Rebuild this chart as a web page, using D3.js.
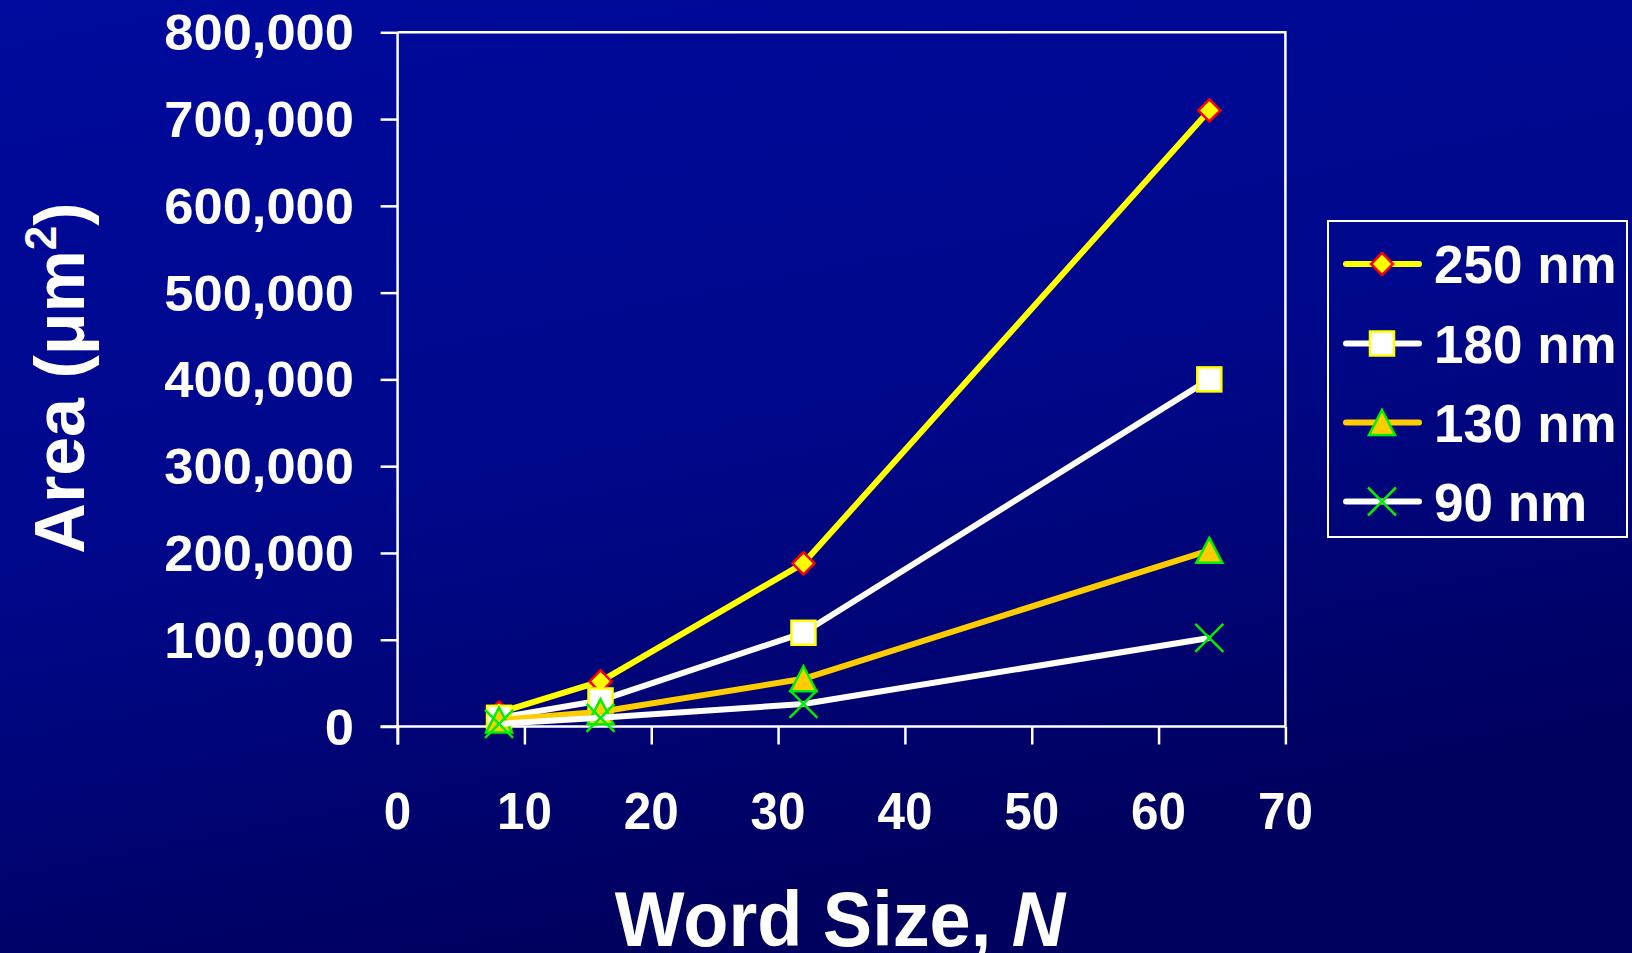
<!DOCTYPE html>
<html>
<head>
<meta charset="utf-8">
<script src="https://cdn.jsdelivr.net/npm/d3@7"></script>
<style>
  html, body { margin: 0; padding: 0; background: #000070; }
  svg { display: block; }
  text { font-family: "Liberation Sans", Arial, sans-serif; font-weight: bold; fill: #ffffff; }
</style>
</head>
<body>
<svg id="chart" width="1632" height="953"></svg>
<script>
// Word sizes (bits) and SRAM area per technology node, in square microns
const wordSizes = [8, 16, 32, 64];
const area250 = [16000, 52000, 188000, 710000];
const area180 = [10000, 30000, 108000, 400000];
const area130 = [7500, 17000, 55000, 203000];
const area90  = [3000, 10000, 26000, 102000];
const seriesNames = ["250 nm", "180 nm", "130 nm", "90 nm"];
const xTicks = [0, 10, 20, 30, 40, 50, 60, 70];
const yTicks = [0, 100000, 200000, 300000, 400000, 500000, 600000, 700000, 800000];

const series = [
  { name: seriesNames[0], values: area250, line: "#ffff00", marker: "diamond",  fill: "#ffff00", stroke: "#ff0000" },
  { name: seriesNames[1], values: area180, line: "#ffffff", marker: "square",   fill: "#ffffff", stroke: "#ffff00" },
  { name: seriesNames[2], values: area130, line: "#ffcc00", marker: "triangle", fill: "#ffcc00", stroke: "#00ee00" },
  { name: seriesNames[3], values: area90,  line: "#ffffff", marker: "cross",    fill: "none",    stroke: "#00ee00" }
];

const svg = d3.select("#chart");

// Slide background
const defs = svg.append("defs");
const bg = defs.append("linearGradient").attr("id", "bg")
  .attr("x1", "0").attr("y1", "0").attr("x2", "0.35").attr("y2", "1");
bg.append("stop").attr("offset", "0").attr("stop-color", "#000a9c");
bg.append("stop").attr("offset", "0.55").attr("stop-color", "#00088a");
bg.append("stop").attr("offset", "1").attr("stop-color", "#00005e");
svg.append("rect").attr("width", 1632).attr("height", 953).attr("fill", "url(#bg)");

// Plot geometry
const plotLeft = 397.6, plotRight = 1285.4, plotTop = 32.3, plotBottom = 726.5;
const x = d3.scaleLinear().domain([0, 70]).range([plotLeft, plotRight]);
const y = d3.scaleLinear().domain([0, 800000]).range([plotBottom, plotTop]);

// Plot frame (top and right edges)
svg.append("path")
  .attr("d", `M${plotLeft},${plotTop}H${plotRight}V${plotBottom}`)
  .attr("fill", "none").attr("stroke", "#ffffff").attr("stroke-width", 2.5);

// Y axis
const yAxis = svg.append("g").attr("transform", `translate(${plotLeft},0)`)
  .call(d3.axisLeft(y).tickValues(yTicks).tickSize(17).tickSizeOuter(0).tickFormat(d => ""));
// X axis
const xAxis = svg.append("g").attr("transform", `translate(0,${plotBottom})`)
  .call(d3.axisBottom(x).tickValues(xTicks).tickSize(18).tickSizeOuter(0).tickFormat(d => ""));
[yAxis, xAxis].forEach(g => {
  g.select(".domain").remove();
  g.selectAll(".tick line").attr("stroke", "#ffffff").attr("stroke-width", 2.5);
});
svg.append("line").attr("x1", plotLeft).attr("x2", plotLeft).attr("y1", plotTop).attr("y2", plotBottom + 18)
  .attr("stroke", "#ffffff").attr("stroke-width", 2.5);
svg.append("line").attr("x1", plotLeft - 17).attr("x2", plotRight).attr("y1", plotBottom).attr("y2", plotBottom)
  .attr("stroke", "#ffffff").attr("stroke-width", 2.5);

// Y tick labels (wide bold numerals)
const fmt = d3.format(",");
svg.append("g").selectAll("text").data(yTicks).join("text")
  .attr("transform", d => `translate(354,${y(d) + 18}) scale(1.05,1)`)
  .attr("text-anchor", "end")
  .style("font-size", "50px")
  .text(d => fmt(d));

// X tick labels
svg.append("g").selectAll("text").data(xTicks).join("text")
  .attr("transform", d => `translate(${x(d)},829) scale(0.95,1)`)
  .attr("text-anchor", "middle")
  .style("font-size", "52px")
  .text(d => d);

// Axis titles
svg.append("text")
  .attr("transform", "translate(840,946) scale(0.96,1)")
  .attr("text-anchor", "middle")
  .style("font-size", "77px")
  .call(t => {
    t.append("tspan").text("Word Size, ");
    t.append("tspan").style("font-style", "italic").text("N");
  });

svg.append("text")
  .attr("transform", "translate(84,378) rotate(-90)")
  .attr("text-anchor", "middle")
  .style("font-size", "70px")
  .call(t => {
    t.append("tspan").text("Area (\u03bcm");
    t.append("tspan").attr("dy", -28).style("font-size", "44px").text("2");
    t.append("tspan").attr("dy", 28).text(")");
  });

// Marker shapes
function drawMarker(g, type, cx, cy, fill, stroke) {
  if (type === "diamond") {
    const r = 11;
    g.append("path").attr("d", `M${cx},${cy - r}L${cx + r},${cy}L${cx},${cy + r}L${cx - r},${cy}Z`)
      .attr("fill", fill).attr("stroke", stroke).attr("stroke-width", 2.5);
  } else if (type === "square") {
    const s = 24;
    g.append("rect").attr("x", cx - s / 2).attr("y", cy - s / 2).attr("width", s).attr("height", s)
      .attr("fill", fill).attr("stroke", stroke).attr("stroke-width", 2.5);
  } else if (type === "triangle") {
    const h = 25, w = 26;
    g.append("path").attr("d", `M${cx},${cy - h / 2}L${cx + w / 2},${cy + h / 2}L${cx - w / 2},${cy + h / 2}Z`)
      .attr("fill", fill).attr("stroke", stroke).attr("stroke-width", 2.5).attr("stroke-linejoin", "miter");
  } else if (type === "cross") {
    const r = 14;
    g.append("path").attr("d", `M${cx - r},${cy - r}L${cx + r},${cy + r}M${cx - r},${cy + r}L${cx + r},${cy - r}`)
      .attr("fill", "none").attr("stroke", stroke).attr("stroke-width", 2.5);
  }
}

// Series lines and markers
const line = d3.line().x(d => x(d[0])).y(d => y(d[1]));
series.forEach(s => {
  const pts = wordSizes.map((w, i) => [w, s.values[i]]);
  const g = svg.append("g");
  g.append("path").attr("d", line(pts))
    .attr("fill", "none").attr("stroke", s.line).attr("stroke-width", 6)
    .attr("stroke-linejoin", "round");
  pts.forEach(p => drawMarker(g, s.marker, x(p[0]), y(p[1]), s.fill, s.stroke));
});

// Legend
const legend = svg.append("g");
legend.append("rect").attr("x", 1328).attr("y", 221).attr("width", 299).attr("height", 316)
  .attr("fill", "none").attr("stroke", "#ffffff").attr("stroke-width", 2);
const rowY = [264, 343.5, 422.5, 501.5];
series.forEach((s, i) => {
  const cy = rowY[i];
  legend.append("line").attr("x1", 1346).attr("x2", 1419).attr("y1", cy).attr("y2", cy)
    .attr("stroke", s.line).attr("stroke-width", 6).attr("stroke-linecap", "round");
  drawMarker(legend, s.marker, 1382, cy, s.fill, s.stroke);
  legend.append("text").attr("x", 1434).attr("y", cy + 19)
    .style("font-size", "53px")
    .text(s.name);
});
</script>
</body>
</html>
